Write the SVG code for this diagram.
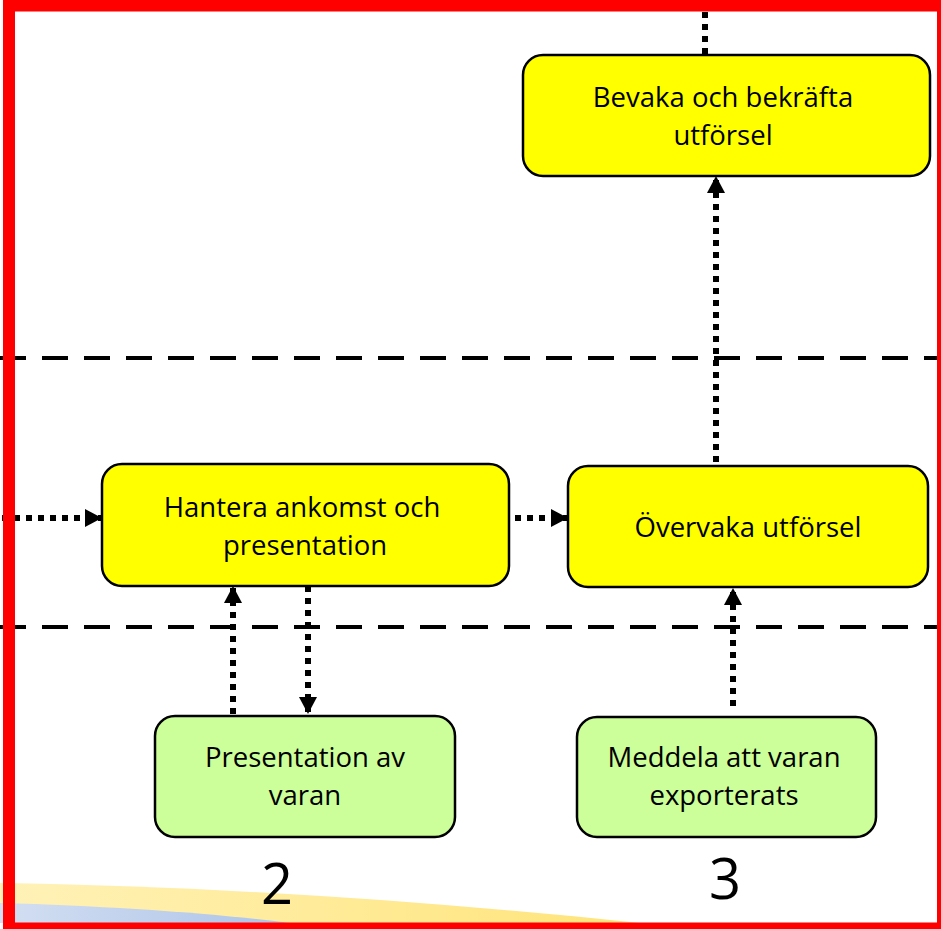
<svg xmlns="http://www.w3.org/2000/svg" width="941" height="929" viewBox="0 0 941 929">
  <defs>
    <linearGradient id="gY" x1="0" y1="0" x2="1" y2="0">
      <stop offset="0" stop-color="#FFF2B8"/>
      <stop offset="1" stop-color="#FFE47A"/>
    </linearGradient>
    <linearGradient id="gB" x1="0" y1="0" x2="1" y2="0">
      <stop offset="0" stop-color="#D3DFF2"/>
      <stop offset="1" stop-color="#ADC3E8"/>
    </linearGradient>
    <marker id="ah" markerUnits="userSpaceOnUse" markerWidth="20" markerHeight="20" refX="17" refY="9" orient="auto">
      <path d="M0,0 L17,9 L0,18 Z" fill="#000"/>
    </marker>
  </defs>
  <style>
    .yel { fill: #FFFF00; stroke: #000; stroke-width: 2.5; }
    .grn { fill: #CCFF99; stroke: #000; stroke-width: 2.5; }
    .lbl { font-family: "Open Sans", "Liberation Sans", sans-serif; font-size: 27.5px; fill: #000; text-anchor: middle; }
    .num { font-family: "Open Sans", "Liberation Sans", sans-serif; font-size: 56px; fill: #000; text-anchor: middle; }
    .dash { stroke: #000; stroke-width: 4; stroke-dasharray: 26 16; fill: none; }
    .dot { stroke: #000; stroke-width: 6; stroke-dasharray: 6 6; fill: none; }
    .arr { marker-end: url(#ah); }
  </style>
  <rect x="0" y="0" width="941" height="929" fill="#fff"/>

  <!-- background bands -->
  <path d="M0,883 C200,886 420,900 640,923 L0,923 Z" fill="url(#gY)"/>
  <path d="M0,903 C110,906 210,913 290,923 L0,923 Z" fill="url(#gB)"/>

  <!-- lane separators -->
  <line class="dash" x1="0" y1="358" x2="941" y2="358"/>
  <line class="dash" x1="0" y1="627" x2="941" y2="627"/>

  <g id="connectors">
    <line class="dot" x1="705" y1="12" x2="705" y2="54"/>
    <line class="dot arr" x1="716" y1="462" x2="716" y2="176"/>
    <line class="dot arr" x1="2" y1="518" x2="102" y2="518"/>
    <line class="dot arr" x1="515" y1="518" x2="568" y2="518"/>
    <line class="dot arr" x1="233" y1="714" x2="233" y2="586"/>
    <line class="dot arr" x1="308" y1="586" x2="308" y2="714"/>
    <line class="dot arr" x1="733" y1="706" x2="733" y2="588"/>
  </g>

  <g id="bevaka">
    <rect class="yel" x="523" y="55" width="407" height="121" rx="20"/>
    <text class="lbl" x="723" y="107">Bevaka och bekräfta</text>
    <text class="lbl" x="723" y="145">utförsel</text>
  </g>
  <g id="hantera">
    <rect class="yel" x="102" y="464" width="407" height="122" rx="20"/>
    <text class="lbl" x="302" y="517">Hantera ankomst och</text>
    <text class="lbl" x="305" y="555">presentation</text>
  </g>
  <g id="overvaka">
    <rect class="yel" x="568" y="466" width="360" height="121" rx="20"/>
    <text class="lbl" x="748" y="537">Övervaka utförsel</text>
  </g>
  <g id="presentation">
    <rect class="grn" x="155" y="716" width="300" height="121" rx="20"/>
    <text class="lbl" x="305" y="767">Presentation av</text>
    <text class="lbl" x="305" y="805">varan</text>
  </g>
  <g id="meddela">
    <rect class="grn" x="577" y="717" width="299" height="120" rx="20"/>
    <text class="lbl" x="724" y="767">Meddela att varan</text>
    <text class="lbl" x="724" y="805">exporterats</text>
  </g>

  <text class="num" x="277" y="904">2</text>
  <text class="num" x="725" y="899">3</text>

  <!-- red frame -->
  <rect x="9" y="5.5" width="934" height="923" fill="none" stroke="#FF0000" stroke-width="12"/>
</svg>
